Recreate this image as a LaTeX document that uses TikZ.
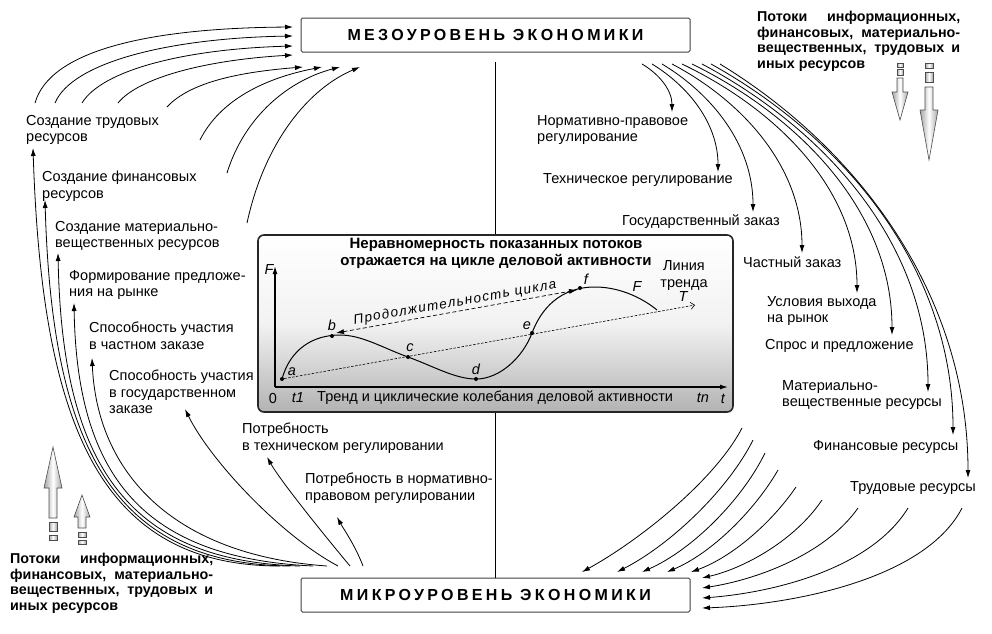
\documentclass[tikz,border=0pt]{standalone}
\usepackage{fontspec}
\setmainfont{Liberation Sans}
\newfontfamily\titlefont[LetterSpace=21]{Liberation Sans}
\newfontfamily\cyclefont[LetterSpace=10]{Liberation Sans}
\usetikzlibrary{arrows.meta,calc}
\begin{document}
\begin{tikzpicture}[x=1pt,y=-1pt,
  lbl/.style={anchor=north west,inner sep=0pt,align=left,font=\fontsize{14.5}{16.5}\selectfont},
  bld/.style={anchor=north west,inner sep=0pt,align=left,font=\bfseries\fontsize{14.3}{15.5}\selectfont},
  flow/.style={line width=0.8pt,-{Latex[length=8pt,width=5pt]}},
  lvl/.style={draw=black!75,line width=1pt,fill=white,rounded corners=1.5pt,minimum width=389pt,minimum height=34pt,inner sep=0pt,font=\titlefont\bfseries\fontsize{16}{18}\selectfont},
  blk/.style={draw=black!70,line width=0.6pt,left color=black!35,right color=black!35,middle color=white},
  dot/.style={circle,fill=black,inner sep=0pt,minimum size=4pt},
  gl/.style={font=\itshape\fontsize{14.5}{16}\selectfont,inner sep=0pt},
  gtxt/.style={font=\fontsize{14.5}{17}\selectfont,inner sep=0pt},
]
\useasboundingbox (0,0) rectangle (992,633);

% level boxes
\node[lvl] (meso) at (495.5,35) {МЕЗОУРОВЕНЬ ЭКОНОМИКИ};
\node[lvl] (micro) at (495.5,595) {МИКРОУРОВЕНЬ ЭКОНОМИКИ};
\coordinate (vtop) at (495.5,62);
\draw[line width=0.8pt] (vtop) -- (micro.north);

% central box
\node[draw=black!85,line width=1.6pt,rounded corners=6pt,top color=white,bottom color=black!30,middle color=black!5,minimum width=475pt,minimum height=177pt,inner sep=0pt] (cbox) at (495.5,323.5) {};
\node[font=\bfseries\fontsize{15}{17}\selectfont,align=center,inner sep=0pt] (ctitle) at (496,253.5) {Неравномерность показанных потоков\\отражается на цикле деловой активности};

% axes
\coordinate (O) at (275,387);
\coordinate (ytop) at (275,266);
\coordinate (xend) at (728,387);
\draw[line width=1.2pt,-{Latex[length=8pt,width=5pt]}] (O) -- (ytop);
\draw[line width=1.2pt,-{Latex[length=8pt,width=5pt]}] (O) -- (xend);
\node[gl] (lF) at (269,270) {F};
\node[gtxt] (l0) at (273,398) {0};
\node[gl] (lt1) at (298,398) {t1};
\node[gtxt,anchor=west] (ltr) at (317,398) {Тренд и циклические колебания деловой активности};
\node[gl] (ltn) at (703,398) {tn};
\node[gl] (lt) at (723,399) {t};

% points
\node[dot] (a) at (282,379) {};
\node[dot] (b) at (332,336) {};
\node[dot] (c) at (408,357) {};
\node[dot] (d) at (476,379) {};
\node[dot] (e) at (532,333) {};
\node[dot] (f) at (580,288) {};
\node[gl] (la) at (292,372) {a};
\node[gl] (lb) at (332,325) {b};
\node[gl] (lc) at (410,348) {c};
\node[gl] (ld) at (476,369) {d};
\node[gl] (le) at (527,326) {e};
\node[gl] (lf) at (586,279) {f};

% trend line
\coordinate (Tend) at (695,305);
\draw[line width=0.6pt,dash pattern=on 2.5pt off 1.5pt,-{Straight Barb[length=4pt,width=7pt]}] (a) -- (Tend);
\node[gl] (lT) at (683,297) {T};
\node[gtxt,align=center] (ltrend) at (684,276) {Линия\\тренда};

% F curve
\draw[line width=1pt] (a.center) .. controls (290,350) and (312,335) .. (340,335)
  .. controls (362,335) and (383,348) .. (c.center)
  .. controls (433,366) and (455,379) .. (d.center)
  .. controls (500,379) and (523,357) .. (e.center)
  .. controls (541,309) and (560,287) .. (595,287)
  .. controls (622,287) and (645,300) .. (657,310);
\node[gl] (lFF) at (637,287) {F};

% cycle duration
\coordinate (cb) at (336,333);
\coordinate (cf) at (577,290);
\draw[line width=0.7pt,dash pattern=on 4pt off 2.5pt,{Latex[length=8pt,width=5pt]}-{Latex[length=8pt,width=5pt]}] (cb) -- node[sloped,above=1pt,inner sep=1pt,font=\cyclefont\itshape\fontsize{13.5}{15}\selectfont] (cyc) {Продолжительность цикла} (cf);

% left labels
\node[lbl] (L1) at (26,115) {Создание трудовых\\ресурсов};
\node[lbl] (L2) at (42,171) {Создание финансовых\\ресурсов};
\node[lbl] (L3) at (55,221) {Создание материально-\\вещественных ресурсов};
\node[lbl] (L4) at (69,270) {Формирование предложе-\\ния на рынке};
\node[lbl] (L5) at (89,322) {Способность участия\\в частном заказе};
\node[lbl] (L6) at (109,370) {Способность участия\\в государственном\\заказе};
\node[lbl] (L7) at (242,423) {Потребность\\в техническом регулировании};
\node[lbl] (L8) at (305,473) {Потребность в нормативно-\\правовом регулировании};

% right labels
\node[lbl] (R1) at (537,115) {Нормативно-правовое\\регулирование};
\node[lbl] (R2) at (543,173) {Техническое регулирование};
\node[lbl] (R3) at (622,215) {Государственный заказ};
\node[lbl] (R4) at (743,257) {Частный заказ};
\node[lbl] (R5) at (767,296) {Условия выхода\\на рынок};
\node[lbl] (R6) at (765,339) {Спрос и предложение};
\node[lbl] (R7) at (782,380) {Материально-\\вещественные ресурсы};
\node[lbl] (R8) at (813,440) {Финансовые ресурсы};
\node[lbl] (R9) at (850,481) {Трудовые ресурсы};

% bold flow texts
\node[bld] (flowR) at (757,11) {\makebox[203pt][s]{Потоки информационных,}\\\makebox[203pt][s]{финансовых, материально-}\\\makebox[203pt][s]{вещественных, трудовых и}\\иных ресурсов};
\node[bld] (flowL) at (10,553) {\makebox[203pt][s]{Потоки информационных,}\\\makebox[203pt][s]{финансовых, материально-}\\\makebox[203pt][s]{вещественных, трудовых и}\\иных ресурсов};

% block arrows top right
\draw[blk] (897,63) rectangle (903,67);
\draw[blk] (897,69) rectangle (903,75);
\draw[blk] (897,78) -- (903,78) -- (903,92) -- (908,92) -- (900,120) -- (892,92) -- (897,92) -- cycle;
\draw[blk] (925,63) rectangle (933,68);
\draw[blk] (925,72) rectangle (933,82);
\draw[blk] (925,87) -- (933,87) -- (933,110) -- (938,110) -- (929,160) -- (920,110) -- (925,110) -- cycle;
% block arrows bottom left
\draw[blk] (49,535) rectangle (57,540);
\draw[blk] (49,522) rectangle (57,531);
\draw[blk] (49,518) -- (57,518) -- (57,488) -- (62,488) -- (53,447) -- (44,488) -- (49,488) -- cycle;
\draw[blk] (78,540) rectangle (86,544);
\draw[blk] (78,532) rectangle (86,537);
\draw[blk] (78,528) -- (86,528) -- (86,517) -- (90,517) -- (82,495) -- (74,517) -- (78,517) -- cycle;

% top-left curves into meso
\coordinate (tl1s) at (35,103);  \coordinate (tl1e) at (293,27);
\coordinate (tl2s) at (55,103);  \coordinate (tl2e) at (293,36);
\coordinate (tl3s) at (82,103);  \coordinate (tl3e) at (293,46);
\coordinate (tl4s) at (118,103); \coordinate (tl4e) at (293,55);
\coordinate (tl5s) at (167,107); \coordinate (tl5e) at (303,67);
\coordinate (tl6s) at (200,140); \coordinate (tl6e) at (322,67);
\coordinate (tl7s) at (227,173); \coordinate (tl7e) at (340,67);
\coordinate (tl8s) at (247,223); \coordinate (tl8e) at (360,67);
\draw[flow] (tl1s) .. controls (50,50) and (150,28) .. (tl1e);
\draw[flow] (tl2s) .. controls (72,62) and (170,38) .. (tl2e);
\draw[flow] (tl3s) .. controls (102,70) and (185,49) .. (tl3e);
\draw[flow] (tl4s) .. controls (138,78) and (205,60) .. (tl4e);
\draw[flow] (tl5s) .. controls (190,82) and (240,72) .. (tl5e);
\draw[flow] (tl6s) .. controls (220,100) and (265,78) .. (tl6e);
\draw[flow] (tl7s) .. controls (245,115) and (290,80) .. (tl7e);
\draw[flow] (tl8s) .. controls (265,140) and (310,88) .. (tl8e);

% top-right curves from meso
\coordinate (tr1s) at (642,64); \coordinate (tr1e) at (672,112);
\coordinate (tr2s) at (652,64); \coordinate (tr2e) at (718,172);
\coordinate (tr3s) at (662,64); \coordinate (tr3e) at (753,212);
\coordinate (tr4s) at (672,64); \coordinate (tr4e) at (802,253);
\coordinate (tr5s) at (682,64); \coordinate (tr5e) at (857,293);
\coordinate (tr6s) at (692,64); \coordinate (tr6e) at (892,335);
\coordinate (tr7s) at (702,64); \coordinate (tr7e) at (928,392);
\coordinate (tr8s) at (711,64); \coordinate (tr8e) at (953,435);
\coordinate (tr9s) at (720,64); \coordinate (tr9e) at (968,478);
\draw[flow] (tr1s) .. controls (659,74) and (672,90) .. (tr1e);
\draw[flow] (tr2s) .. controls (688,86) and (718,123) .. (tr2e);
\draw[flow] (tr3s) .. controls (712,94) and (753,145) .. (tr3e);
\draw[flow] (tr4s) .. controls (744,102) and (802,168) .. (tr4e);
\draw[flow] (tr5s) .. controls (778,110) and (857,190) .. (tr5e);
\draw[flow] (tr6s) .. controls (802,118) and (892,213) .. (tr6e);
\draw[flow] (tr7s) .. controls (826,130) and (928,244) .. (tr7e);
\draw[flow] (tr8s) .. controls (844,138) and (953,268) .. (tr8e);
\draw[flow] (tr9s) .. controls (856,147) and (968,292) .. (tr9e);

% bottom-right curves into micro
\coordinate (br1s) at (742,428); \coordinate (br1e) at (582,572);
\coordinate (br2s) at (753,440); \coordinate (br2e) at (617,572);
\coordinate (br3s) at (765,453); \coordinate (br3e) at (642,572);
\coordinate (br4s) at (778,470); \coordinate (br4e) at (667,572);
\coordinate (br5s) at (796,487); \coordinate (br5e) at (691,572);
\coordinate (br6s) at (822,500); \coordinate (br6e) at (702,578);
\coordinate (br7s) at (858,508); \coordinate (br7e) at (702,588);
\coordinate (br8s) at (908,508); \coordinate (br8e) at (702,598);
\coordinate (br9s) at (962,508); \coordinate (br9e) at (702,608);
\draw[flow] (br1s) .. controls (715,480) and (640,540) .. (br1e);
\draw[flow] (br2s) .. controls (728,490) and (670,545) .. (br2e);
\draw[flow] (br3s) .. controls (742,500) and (692,550) .. (br3e);
\draw[flow] (br4s) .. controls (755,510) and (712,553) .. (br4e);
\draw[flow] (br5s) .. controls (770,525) and (730,558) .. (br5e);
\draw[flow] (br6s) .. controls (795,540) and (745,568) .. (br6e);
\draw[flow] (br7s) .. controls (825,555) and (755,580) .. (br7e);
\draw[flow] (br8s) .. controls (870,570) and (770,593) .. (br8e);
\draw[flow] (br9s) .. controls (925,580) and (790,605) .. (br9e);

% bottom-left curves from micro
\coordinate (bl1s) at (280,566); \coordinate (bl1e) at (33,148);
\coordinate (bl2s) at (290,566); \coordinate (bl2e) at (45,200);
\coordinate (bl3s) at (300,566); \coordinate (bl3e) at (58,253);
\coordinate (bl4s) at (313,566); \coordinate (bl4e) at (74,303);
\coordinate (bl5s) at (327,566); \coordinate (bl5e) at (92,358);
\coordinate (bl6s) at (338,566); \coordinate (bl6e) at (185,409);
\coordinate (bl7s) at (350,566); \coordinate (bl7e) at (267,457);
\coordinate (bl8s) at (363,566); \coordinate (bl8e) at (337,517);
\draw[flow] (bl1s) .. controls (100,566) and (42,425) .. (bl1e);
\draw[flow] (bl2s) .. controls (112,564) and (52,445) .. (bl2e);
\draw[flow] (bl3s) .. controls (126,561) and (62,462) .. (bl3e);
\draw[flow] (bl4s) .. controls (145,558) and (77,478) .. (bl4e);
\draw[flow] (bl5s) .. controls (172,555) and (97,472) .. (bl5e);
\draw[flow] (bl6s) .. controls (280,535) and (210,460) .. (bl6e);
\draw[flow] (bl7s) .. controls (320,530) and (280,480) .. (bl7e);
\draw[flow] (bl8s) .. controls (355,545) and (343,528) .. (bl8e);
\end{tikzpicture}
\end{document}
